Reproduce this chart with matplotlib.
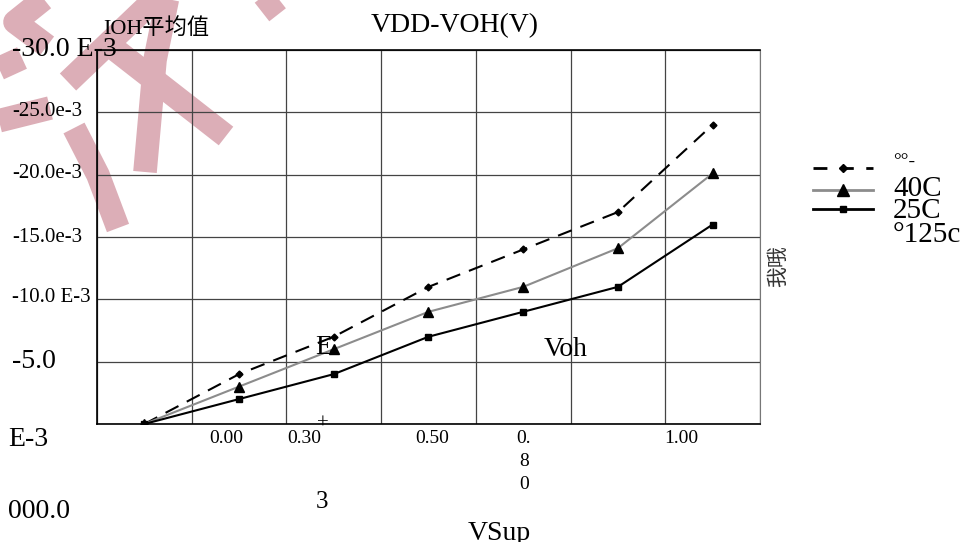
import numpy as np
import matplotlib
matplotlib.use("Agg")
import matplotlib.pyplot as plt

plt.rcParams['font.family'] = ['Liberation Serif', 'Noto Sans CJK SC']

# --- data (|IOH| in mA) ---
n_points = 7
dash_vals = [0, 4.0, 7.0, 11.0, 14.0, 17.0, 24.0]     # diamond, dashed
tri_vals = [0, 3.0, 6.0, 9.0, 11.0, 14.1, 20.1]       # triangle, gray
sq_vals = [0, 2.0, 4.0, 7.0, 9.0, 11.0, 16.0]         # square, black
legend_labels = ['°°-', '40C', '25C', '°125c']

y_tick_text = ['-30.0 E-3', '-25.0e-3', '-20.0e-3', '-15.0e-3', '-10.0 E-3', '-5.0']
y_tick_size = [20, 15, 15, 15, 15, 20]
x_tick_text = ['0.00', '0.30', '0.50', '0.\n8\n0', '1.00']

W, H = 962, 542
fig = plt.figure(figsize=(W / 100, H / 100), dpi=100)

# pixel-space helper axes: watermark under, text over
wm = fig.add_axes([0, 0, 1, 1], zorder=0)
wm.set_xlim(0, W); wm.set_ylim(H, 0); wm.axis('off')

pink = '#dcaeb7'
strokes = [
    [(45, -2), (15, 22), (47, 46)],
    [(-2, 69), (22, 58)],
    [(-2, 121), (50, 108)],
    [(68, 82), (158, -4)],
    [(108, 44), (226, 136)],
    [(168, -4), (155, 60), (145, 172)],
    [(74, 128), (98, 175), (118, 228)],
    [(262, 12), (285, -6)],
]
for s in strokes:
    xs_, ys_ = zip(*s)
    wm.plot(xs_, ys_, color=pink, lw=17, solid_capstyle='butt')

# --- main plot ---
ax = fig.add_axes([97 / W, 1 - 424 / H, (760 - 97) / W, (424 - 50) / H], zorder=1)
ax.patch.set_alpha(0)
x = np.arange(n_points) + 0.5

ax.plot(x, dash_vals, color='black', lw=1.5, dashes=(7, 4.5),
        marker='D', markersize=3.5, zorder=3)
ax.plot(x, tri_vals, color='#8c8c8c', lw=1.5,
        marker='^', markersize=7, markerfacecolor='black', markeredgecolor='black', zorder=3)
ax.plot(x, sq_vals, color='black', lw=1.5,
        marker='s', markersize=4, zorder=3)

ax.set_xlim(0, 7)
ax.set_ylim(0, 30)
ax.set_xticks(range(8))
ax.set_yticks(range(0, 31, 5))
ax.grid(True, color='#444444', lw=0.9)
ax.tick_params(length=0, labelbottom=False, labelleft=False)
for side in ['left', 'top', 'bottom']:
    ax.spines[side].set_color('black')
    ax.spines[side].set_linewidth(1.2)
ax.spines['right'].set_color('#777777')

# --- loose texts ---
tx = fig.add_axes([0, 0, 1, 1], zorder=5)
tx.set_xlim(0, W); tx.set_ylim(H, 0); tx.axis('off')

tx.text(455, 26, 'VDD-VOH(V)', fontsize=20, ha='center', va='center')
tx.text(103, 28, 'IOH平均值', fontsize=16, ha='left', va='center')

y_pix = [50, 112, 174, 237, 298, 361]
for lab, yy, fs in zip(y_tick_text, y_pix, y_tick_size):
    tx.text(12, yy, lab, fontsize=fs, ha='left', va='center')
tx.text(8, 440, 'E-3', fontsize=20, ha='left', va='center')
tx.text(8, 512, '000.0', fontsize=20, ha='left', va='center')

x_pix = [226, 304, 432, 524, 681]
for lab, xx in zip(x_tick_text, x_pix):
    tx.text(xx, 430, lab, fontsize=14, ha='center', va='top', linespacing=1.45)
tx.text(323, 424, '+', fontsize=15, ha='center', va='center')
tx.text(322, 502, '3', fontsize=18, ha='center', va='center')
tx.text(468, 546, 'VSup', fontsize=20, ha='left', va='bottom')

tx.text(324, 348, 'E', fontsize=20, ha='center', va='center')
tx.text(566, 349, 'Voh', fontsize=20, ha='center', va='center')
tx.text(778, 266, '我哦', fontsize=15, ha='center', va='center', rotation=90,
        color='#333333', family=['Noto Sans CJK SC'])

# --- legend ---
lx = np.array([813, 873])
tx.plot(lx, [168, 168], color='black', lw=2, dashes=(5, 4.5))
tx.plot([843], [168], color='black', marker='D', markersize=4)
tx.plot(lx, [190, 190], color='#8c8c8c', lw=2)
tx.plot([843], [190], color='black', marker='^', markersize=8)
tx.plot(lx, [209, 209], color='black', lw=2)
tx.plot([843], [209], color='black', marker='s', markersize=4)
tx.text(893, 162, legend_labels[0], fontsize=14, ha='left', va='center')
tx.text(893, 189, legend_labels[1], fontsize=21, ha='left', va='center')
tx.text(893, 211, legend_labels[2], fontsize=21, ha='left', va='center')
tx.text(893, 235, legend_labels[3], fontsize=21, ha='left', va='center')

fig.savefig('out.png', dpi=100)
